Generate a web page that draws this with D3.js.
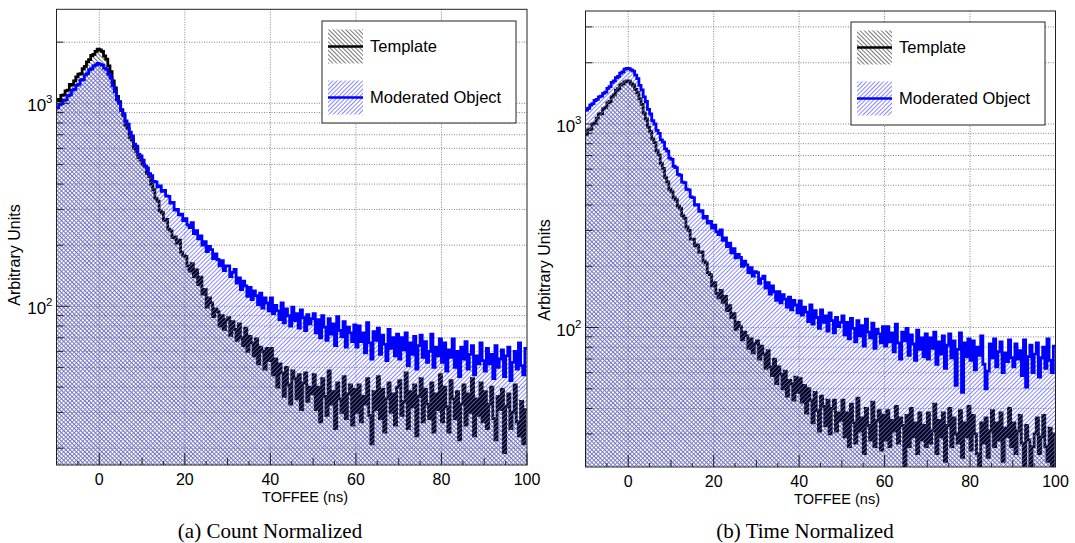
<!DOCTYPE html>
<html>
<head>
<meta charset="utf-8">
<script src="https://cdn.jsdelivr.net/npm/d3@7"></script>
<style>
  body { margin: 0; background: #fff; }
  text { font-family: "Liberation Sans", Arial, Helvetica, sans-serif; fill: #000; }
  .caption { font-family: "Liberation Serif", "Times New Roman", serif; }
</style>
</head>
<body>
<script>
// histogram bins: 0.5 ns wide, from -10 ns to 100 ns
const binStart = -10;
const binWidth = 0.5;

const countTemplate = [
  1045, 1030, 1095, 1100, 1150, 1160, 1240, 1230, 1290, 1350, 1390, 1400, 1480, 1520, 1600, 1640, 1720, 1740, 1800, 1850,
  1830, 1800, 1710, 1650, 1530, 1430, 1290, 1190, 1080, 1020, 930, 870, 780, 750, 680, 660, 600, 580, 540, 525,
  500, 490, 450, 435, 400, 375, 340, 330, 295, 290, 265, 268, 240, 235, 218, 220, 205, 212, 185, 178,
  176, 158, 149, 162, 140, 151, 128, 139, 115, 121, 99, 110, 104, 89, 97, 94, 80, 90, 77, 86,
  88, 72, 84, 77, 68, 82, 70, 64, 78, 60, 71, 66, 57, 69, 52, 63, 60, 49, 62, 54,
  62, 46, 55, 40, 52, 47, 36, 50, 41, 33, 48, 44, 35, 46, 31, 42, 47, 34, 40, 37,
  46, 31, 40, 27, 44, 36, 29, 48, 33, 38, 25, 42, 35, 30, 45, 28, 37, 41, 26, 39,
  30, 41, 27, 36, 33, 44, 29, 21, 38, 31, 45, 28, 39, 24, 35, 42, 30, 37, 26, 40,
  43, 29, 34, 47, 25, 38, 32, 41, 23, 36, 44, 27, 39, 33, 28, 42, 24, 37, 31, 46,
  27, 40, 32, 24, 43, 35, 28, 38, 22, 33, 41, 26, 37, 30, 44, 23, 35, 29, 42, 27,
  38, 25, 33, 40, 28, 22, 36, 31, 39, 19, 32, 37, 25, 30, 41, 27, 23, 34, 21, 31
];
const countModerated = [
  950, 985, 995, 1035, 1040, 1090, 1100, 1160, 1170, 1225, 1240, 1300, 1310, 1380, 1400, 1465, 1480, 1530, 1545, 1570,
  1555, 1540, 1490, 1470, 1390, 1330, 1220, 1140, 1040, 1000, 920, 890, 820, 790, 720, 690, 630, 615, 560, 550,
  525, 490, 480, 450, 440, 412, 410, 388, 392, 368, 372, 350, 348, 322, 325, 298, 300, 282, 284, 264,
  270, 252, 244, 258, 228, 236, 215, 222, 200, 208, 186, 197, 190, 172, 181, 170, 158, 168, 150, 158,
  158, 140, 147, 152, 130, 138, 121, 133, 126, 112, 124, 108, 119, 113, 102, 116, 98, 110, 104, 95,
  110, 92, 101, 95, 86, 104, 83, 97, 90, 80, 99, 85, 92, 78, 96, 88, 76, 91, 82, 87,
  92, 74, 86, 70, 90, 79, 68, 87, 73, 82, 64, 89, 76, 71, 84, 63, 79, 74, 67, 81,
  63, 80, 67, 74, 59, 83, 66, 55, 75, 68, 78, 58, 72, 65, 54, 77, 62, 70, 57, 73,
  55, 70, 61, 74, 51, 66, 58, 71, 49, 64, 72, 56, 67, 53, 60, 73, 50, 63, 57, 69,
  53, 66, 48, 61, 56, 69, 50, 60, 45, 63, 55, 67, 49, 58, 64, 46, 57, 52, 66, 54,
  48, 62, 52, 58, 44, 64, 50, 55, 61, 45, 57, 63, 43, 53, 60, 49, 66, 51, 46, 62
];
const timeTemplate = [
  890, 935, 945, 1000, 1010, 1070, 1120, 1125, 1190, 1205, 1270, 1290, 1360, 1390, 1465, 1490, 1555, 1575, 1610, 1630,
  1625, 1580, 1555, 1480, 1425, 1330, 1250, 1130, 1060, 965, 920, 845, 810, 740, 705, 640, 605, 545, 520, 478,
  465, 435, 425, 395, 385, 355, 345, 312, 300, 272, 272, 252, 255, 234, 235, 212, 208, 186, 182, 160,
  166, 147, 140, 152, 133, 142, 121, 128, 112, 117, 98, 106, 101, 87, 95, 91, 79, 88, 75, 83,
  86, 70, 81, 74, 63, 77, 64, 58, 70, 53, 64, 59, 50, 61, 46, 55, 53, 44, 57, 48,
  56, 43, 52, 38, 50, 44, 34, 48, 39, 31, 46, 41, 33, 44, 30, 40, 44, 31, 38, 35,
  44, 29, 38, 26, 42, 34, 27, 45, 31, 36, 24, 40, 33, 28, 43, 26, 35, 39, 25, 37,
  28, 39, 26, 35, 31, 41, 27, 36, 33, 18, 37, 26, 40, 29, 34, 24, 38, 28, 33, 26,
  38, 27, 31, 42, 24, 35, 29, 38, 22, 33, 40, 26, 36, 30, 27, 39, 23, 34, 29, 41,
  25, 37, 30, 24, 19, 34, 27, 36, 23, 31, 39, 26, 34, 28, 38, 22, 32, 29, 40, 26,
  34, 24, 31, 37, 27, 21, 33, 28, 18, 26, 30, 36, 24, 29, 37, 26, 22, 32, 19, 30
];
const timeModerated = [
  1170, 1195, 1240, 1260, 1305, 1320, 1360, 1370, 1415, 1435, 1495, 1525, 1600, 1630, 1690, 1715, 1780, 1805, 1860, 1875,
  1870, 1845, 1820, 1740, 1670, 1550, 1470, 1360, 1290, 1180, 1120, 1040, 1000, 930, 900, 835, 815, 755, 735, 680,
  670, 620, 610, 565, 560, 518, 515, 478, 475, 438, 435, 400, 402, 372, 375, 345, 352, 326, 332, 308,
  318, 296, 286, 302, 268, 276, 250, 260, 233, 244, 220, 229, 221, 200, 212, 203, 186, 197, 179, 188,
  186, 165, 174, 179, 156, 166, 146, 160, 150, 136, 150, 132, 145, 138, 126, 141, 122, 136, 129, 118,
  135, 115, 126, 119, 107, 129, 104, 121, 112, 99, 122, 106, 114, 96, 118, 108, 94, 112, 101, 106,
  114, 92, 106, 88, 111, 99, 85, 108, 91, 102, 81, 110, 95, 89, 105, 79, 98, 93, 84, 101,
  81, 101, 85, 94, 76, 104, 84, 70, 95, 86, 99, 73, 92, 83, 69, 97, 78, 89, 72, 93,
  70, 89, 79, 95, 66, 85, 74, 91, 63, 82, 93, 71, 86, 52, 78, 94, 48, 84, 72, 88,
  69, 86, 62, 80, 73, 91, 66, 50, 61, 83, 71, 88, 64, 76, 85, 60, 75, 68, 87, 71,
  64, 83, 70, 77, 58, 87, 51, 72, 82, 60, 74, 84, 57, 71, 80, 63, 88, 69, 60, 81
];

const xTickValues = [0, 20, 40, 60, 80, 100];
const yDecades = [10, 100, 1000];
const yMinorSteps = [2, 3, 4, 5, 6, 7, 8, 9];
const legendLabels = ["Template", "Moderated Object"];
const captions = ["(a) Count Normalized", "(b) Time Normalized"];
const xTitle = "TOFFEE (ns)";
const yTitle = "Arbitrary Units";

const w = 1075;
const h = 543;
const svg = d3.select("body")
  .append("svg")
  .attr("width", w)
  .attr("height", h);

const defs = svg.append("defs");
function hatch(id, color, angle, width) {
  const p = defs.append("pattern")
    .attr("id", id)
    .attr("patternUnits", "userSpaceOnUse")
    .attr("width", 3)
    .attr("height", 3)
    .attr("patternTransform", "rotate(" + angle + ")");
  p.append("line")
    .attr("x1", 1.5).attr("y1", -1)
    .attr("x2", 1.5).attr("y2", 4)
    .attr("stroke", color)
    .attr("stroke-width", width);
}
hatch("hatchT", "#555", -45, 0.8);
hatch("hatchM", "#6a6aff", 45, 0.8);

const panels = [
  { x0: 56.5, x1: 527, y0: 9.3, y1: 465, yDomain: [16.53, 2904],
    tmpl: countTemplate, mod: countModerated, caption: captions[0], capX: 270,
    legend: [322, 21, 516, 123], yTitleX: 20, yTitleY: 255, xTitleX: 305, xLabY: 485 },
  { x0: 585.5, x1: 1055.5, y0: 11, y1: 467, yDomain: [20.63, 3592],
    tmpl: timeTemplate, mod: timeModerated, caption: captions[1], capX: 805,
    legend: [851, 22, 1045, 125], yTitleX: 550, yTitleY: 270, xTitleX: 837, xLabY: 487 }
];

panels.forEach((p, k) => {
  const x = d3.scaleLinear().domain([binStart, 100]).range([p.x0, p.x1]);
  const y = d3.scaleLog().domain(p.yDomain).range([p.y1, p.y0]);
  const g = svg.append("g");

  g.append("clipPath").attr("id", "clip" + k)
    .append("rect")
    .attr("x", p.x0).attr("y", p.y0)
    .attr("width", p.x1 - p.x0).attr("height", p.y1 - p.y0);

  // y tick values on the log axis
  const yTicks = [];
  yDecades.forEach(d => {
    yTicks.push({ v: d, major: true });
    yMinorSteps.forEach(m => yTicks.push({ v: d * m, major: false }));
  });
  const yIn = yTicks.filter(t => t.v >= p.yDomain[0] && t.v <= p.yDomain[1]);

  // grid
  g.append("g").selectAll("line")
    .data(yIn)
    .enter()
    .append("line")
    .attr("x1", p.x0).attr("x2", p.x1)
    .attr("y1", d => y(d.v)).attr("y2", d => y(d.v))
    .attr("stroke", "#666").attr("stroke-width", 0.8)
    .attr("stroke-dasharray", "1,1.5");
  g.append("g").selectAll("line")
    .data(xTickValues.filter(v => v < 100))
    .enter()
    .append("line")
    .attr("x1", d => x(d)).attr("x2", d => x(d))
    .attr("y1", p.y0).attr("y2", p.y1)
    .attr("stroke", "#666").attr("stroke-width", 0.8)
    .attr("stroke-dasharray", "1,1.5");

  const steps = vals => {
    const pts = [];
    vals.forEach((v, i) => {
      const a = binStart + i * binWidth;
      pts.push([a, v], [a + binWidth, v]);
    });
    return pts;
  };
  const area = d3.area()
    .x(d => x(d[0]))
    .y0(p.y1)
    .y1(d => y(d[1]));
  const line = d3.line()
    .x(d => x(d[0]))
    .y(d => y(d[1]));

  const hist = g.append("g").attr("clip-path", "url(#clip" + k + ")");
  [[p.tmpl, "hatchT", "#000"], [p.mod, "hatchM", "#0000ff"]].forEach(s => {
    const pts = steps(s[0]);
    hist.append("path")
      .datum(pts)
      .attr("d", area)
      .attr("fill", "url(#" + s[1] + ")");
    hist.append("path")
      .datum(pts)
      .attr("d", line)
      .attr("fill", "none")
      .attr("stroke", s[2])
      .attr("stroke-width", 2.8)
      .attr("stroke-linejoin", "miter");
  });

  // frame
  g.append("rect")
    .attr("x", p.x0).attr("y", p.y0)
    .attr("width", p.x1 - p.x0).attr("height", p.y1 - p.y0)
    .attr("fill", "none").attr("stroke", "#222").attr("stroke-width", 1);

  // y ticks (inside) and labels
  g.append("g").selectAll("line")
    .data(yIn)
    .enter()
    .append("line")
    .attr("x1", p.x0).attr("x2", d => p.x0 + (d.major ? 13 : 7))
    .attr("y1", d => y(d.v)).attr("y2", d => y(d.v))
    .attr("stroke", "#222").attr("stroke-width", 1);
  const ylab = g.append("g").selectAll("text")
    .data(yIn.filter(d => d.major))
    .enter()
    .append("text")
    .attr("x", p.x0 - 4)
    .attr("y", d => y(d.v) + 8)
    .attr("text-anchor", "end")
    .attr("font-size", 17);
  ylab.append("tspan").text("10");
  ylab.append("tspan")
    .attr("dy", -8)
    .attr("font-size", 11.5)
    .text(d => Math.round(Math.log10(d.v)));

  // x ticks: 20 major, 10 medium, 5 minor
  const xt = d3.range(-10, 100.1, 5).map(v => ({ v: v, len: v % 20 === 0 ? 12 : (v % 10 === 0 ? 7 : 4) }));
  g.append("g").selectAll("line")
    .data(xt)
    .enter()
    .append("line")
    .attr("x1", d => x(d.v)).attr("x2", d => x(d.v))
    .attr("y1", p.y1).attr("y2", d => p.y1 - d.len)
    .attr("stroke", "#222").attr("stroke-width", 1);
  g.append("g").selectAll("text")
    .data(xTickValues)
    .enter()
    .append("text")
    .attr("x", d => x(d))
    .attr("y", p.xLabY)
    .attr("text-anchor", "middle")
    .attr("font-size", 16)
    .text(d => d);

  g.append("text")
    .attr("x", p.xTitleX)
    .attr("y", p.xLabY + 17)
    .attr("text-anchor", "middle")
    .attr("font-size", 14.5)
    .text(xTitle);
  g.append("text")
    .attr("transform", "translate(" + p.yTitleX + "," + p.yTitleY + ") rotate(-90)")
    .attr("text-anchor", "middle")
    .attr("font-size", 16)
    .text(yTitle);

  // legend
  const L = p.legend;
  const lg = g.append("g");
  lg.append("rect")
    .attr("x", L[0]).attr("y", L[1])
    .attr("width", L[2] - L[0]).attr("height", L[3] - L[1])
    .attr("fill", "#fff").attr("stroke", "#222").attr("stroke-width", 1);
  const rows = [[legendLabels[0], "hatchT", "#000"], [legendLabels[1], "hatchM", "#0000ff"]];
  rows.forEach((r, i) => {
    const cy = L[1] + 25.5 + i * 51;
    lg.append("rect")
      .attr("x", L[0] + 6).attr("y", cy - 17)
      .attr("width", 35).attr("height", 34)
      .attr("fill", "url(#" + r[1] + ")");
    lg.append("line")
      .attr("x1", L[0] + 6).attr("x2", L[0] + 41)
      .attr("y1", cy).attr("y2", cy)
      .attr("stroke", r[2]).attr("stroke-width", 2.6);
    lg.append("text")
      .attr("x", L[0] + 48)
      .attr("y", cy + 5.5)
      .attr("font-size", 16.5)
      .text(r[0]);
  });

  svg.append("text")
    .attr("class", "caption")
    .attr("x", p.capX)
    .attr("y", 538)
    .attr("text-anchor", "middle")
    .attr("font-size", 21)
    .text(p.caption);
});
</script>
</body>
</html>
